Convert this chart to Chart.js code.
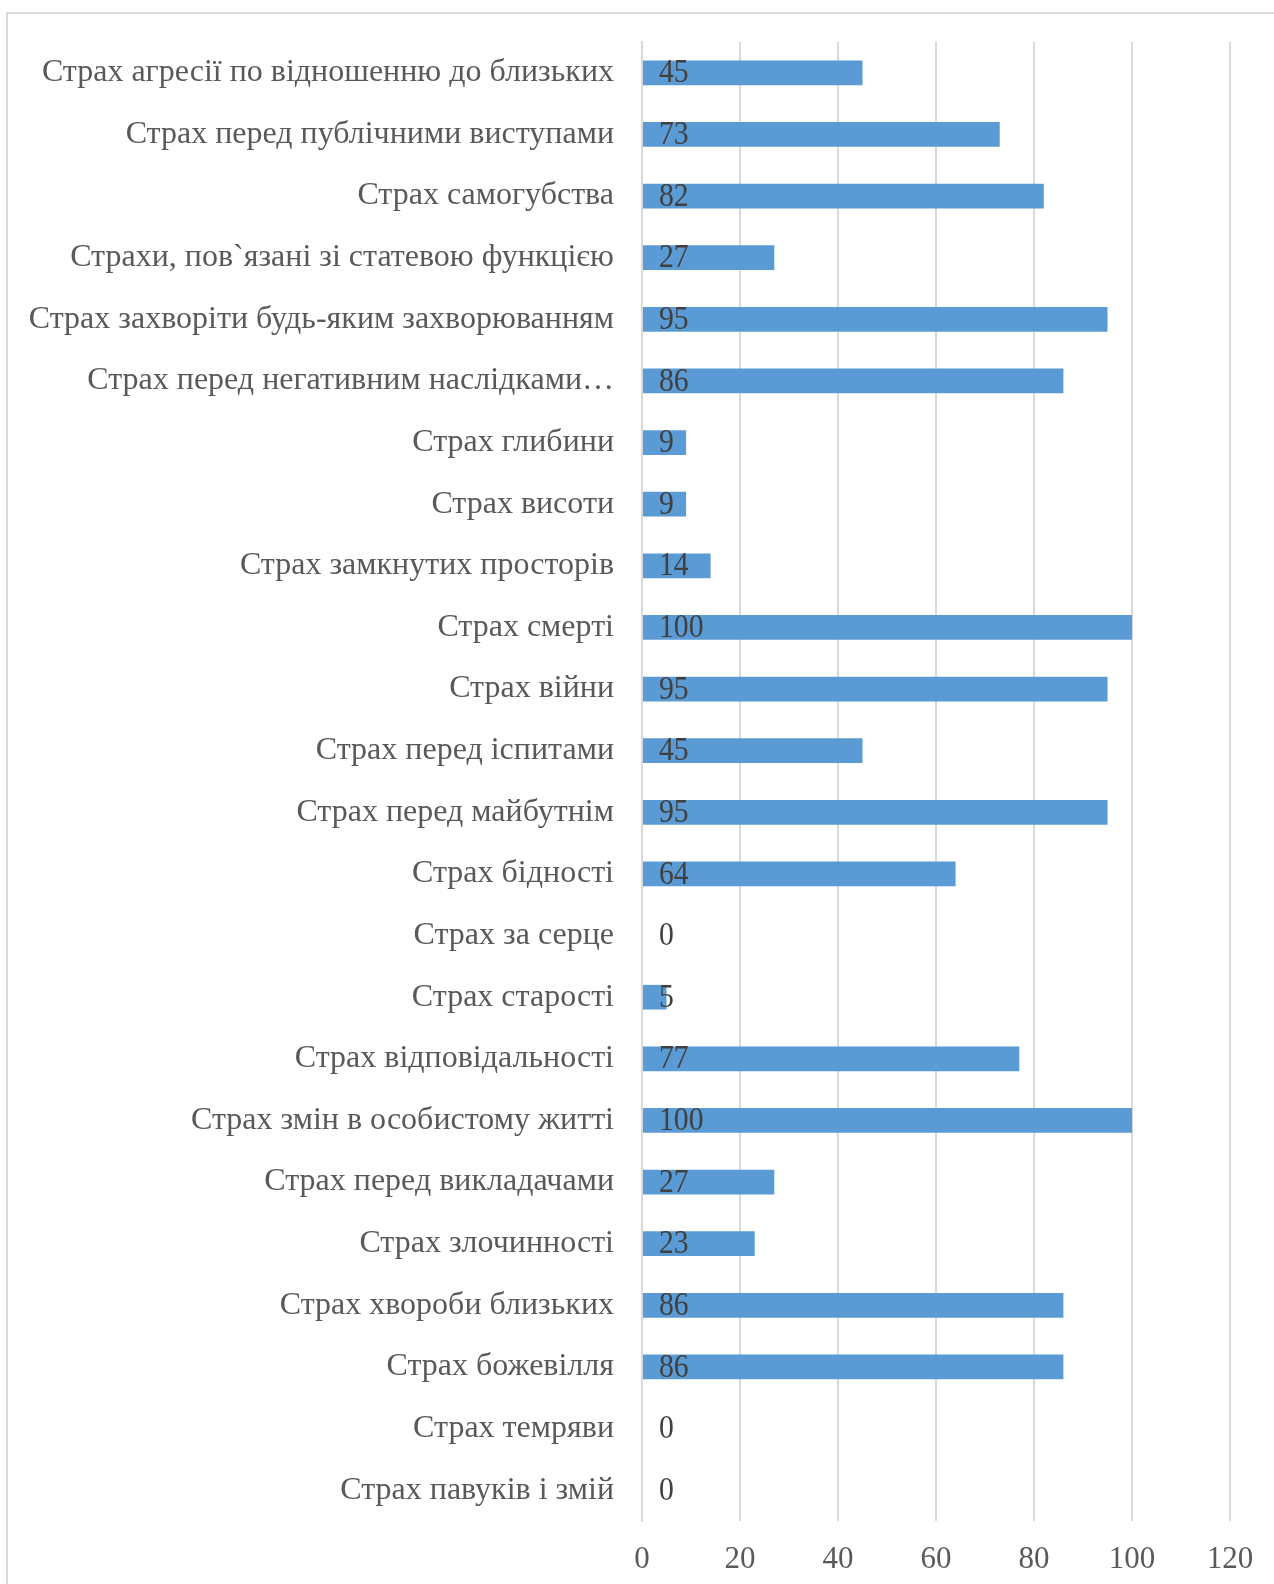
<!DOCTYPE html>
<html>
<head>
<meta charset="utf-8">
<script src="https://cdn.jsdelivr.net/npm/chart.js@4/dist/chart.umd.min.js"></script>
<style>
  html, body { margin: 0; padding: 0; background: #fff; overflow: hidden; }
  #wrap { position: relative; width: 1274px; height: 1584px; overflow: hidden; }
  #frame { position: absolute; left: 6px; top: 12px; width: 1300px; height: 1640px;
           border: 2px solid #d9d9d9; box-sizing: border-box; }
  canvas { position: absolute; left: 0; top: 0; }
</style>
</head>
<body>
<div id="wrap">
  <div id="frame"></div>
  <canvas id="c" width="1274" height="1584"></canvas>
</div>
<script>
const categories = [
  'Страх агресії по відношенню до близьких',
  'Страх перед публічними виступами',
  'Страх самогубства',
  'Страхи, пов`язані зі статевою функцією',
  'Страх захворіти будь-яким захворюванням',
  'Страх перед негативним наслідками…',
  'Страх глибини',
  'Страх висоти',
  'Страх замкнутих просторів',
  'Страх смерті',
  'Страх війни',
  'Страх перед іспитами',
  'Страх перед майбутнім',
  'Страх бідності',
  'Страх за серце',
  'Страх старості',
  'Страх відповідальності',
  'Страх змін в особистому житті',
  'Страх перед викладачами',
  'Страх злочинності',
  'Страх хвороби близьких',
  'Страх божевілля',
  'Страх темряви',
  'Страх павуків і змій'
];
const values = [45, 73, 82, 27, 95, 86, 9, 9, 14, 100, 95, 45, 95, 64, 0, 5, 77, 100, 27, 23, 86, 86, 0, 0];
const xTicks = [0, 20, 40, 60, 80, 100, 120];

const FONT = '"Liberation Serif", "Times New Roman", serif';

// numbers are set a little narrow, like the rest of the digits on the chart
function narrowText(ctx, txt, x, y, sx) {
  ctx.save();
  ctx.translate(x, y);
  ctx.scale(sx, 1);
  ctx.fillText(txt, 0, 0);
  ctx.restore();
}

// value labels just inside the start of each bar
const valueLabels = {
  id: 'valueLabels',
  afterDatasetsDraw(chart) {
    const ctx = chart.ctx;
    const meta = chart.getDatasetMeta(0);
    const xs = chart.scales.x;
    ctx.save();
    ctx.font = '33px ' + FONT;
    ctx.fillStyle = '#404040';
    ctx.textAlign = 'left';
    ctx.textBaseline = 'middle';
    meta.data.forEach((bar, i) => {
      narrowText(ctx, String(values[i]), xs.getPixelForValue(0) + 17, bar.y + 1, 0.9);
    });
    ctx.restore();
  }
};

new Chart(document.getElementById('c'), {
  type: 'bar',
  data: {
    labels: categories,
    datasets: [{
      data: values,
      backgroundColor: '#5b9bd5',
      borderWidth: 0,
      barPercentage: 0.4,
      categoryPercentage: 1.0
    }]
  },
  options: {
    indexAxis: 'y',
    responsive: false,
    animation: false,
    layout: { padding: { left: 0, right: 44, top: 42, bottom: 0 } },
    plugins: { legend: { display: false }, tooltip: { enabled: false } },
    scales: {
      x: {
        min: 0, max: 120,
        afterBuildTicks: s => { s.ticks = xTicks.map(v => ({ value: v })); },
        grid: { color: '#d9d9d9', lineWidth: 2, drawTicks: false },
        border: { display: false },
        ticks: { color: '#595959', font: { family: FONT, size: 31 }, padding: 20 },
        afterFit: s => { s.height = 63; }
      },
      y: {
        grid: { display: false, drawTicks: false },
        border: { display: true, color: '#d9d9d9', width: 2 },
        ticks: { color: '#595959', font: { family: FONT, size: 32 }, padding: 28, autoSkip: false },
        afterFit: s => { s.width = 642; s.paddingTop = 0; s.paddingBottom = 0; }
      }
    }
  },
  plugins: [valueLabels]
});
</script>
</body>
</html>
